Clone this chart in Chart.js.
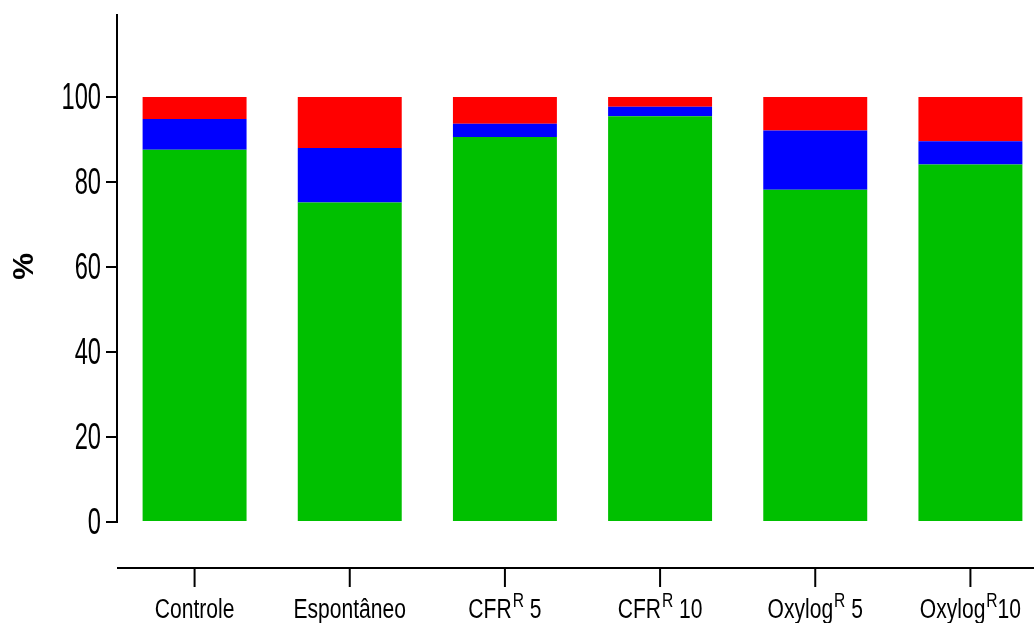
<!DOCTYPE html>
<html>
<head>
<meta charset="utf-8">
<script src="https://cdn.jsdelivr.net/npm/chart.js@4"></script>
<style>
  html, body { margin: 0; padding: 0; background: #fff; overflow: hidden; }
  #wrap { width: 1048px; height: 623px; }
</style>
</head>
<body>
<div id="wrap"><canvas id="chart" width="1048" height="623"></canvas></div>
<script>
// categorias: [base, sobrescrito, sufixo]
const categorias = [
  ['Controle', '', ''],
  ['Espontâneo', '', ''],
  ['CFR', 'R', ' 5'],
  ['CFR', 'R', ' 10'],
  ['Oxylog', 'R', ' 5'],
  ['Oxylog', 'R', '10']
];
const verde    = [87.6, 75.2, 90.6, 95.5, 78.2, 84.1];
const azul     = [7.2, 12.8, 3.1, 2.2, 13.9, 5.5];
const vermelho = [5.2, 12.0, 6.3, 2.3, 7.9, 10.4];
const yTicks   = [0, 20, 40, 60, 80, 100];
const yTitulo  = '%';

const FONTE = "'Liberation Sans', Arial, sans-serif";

// texto estreito (fonte comprimida na horizontal)
function textoEstreito(ctx, txt, x, y, escala) {
  ctx.save();
  ctx.translate(x, y);
  ctx.scale(escala, 1);
  ctx.fillText(txt, 0, 0);
  ctx.restore();
}

const eixos = {
  id: 'eixos',
  afterDraw(chart) {
    const ctx = chart.ctx;
    const x = chart.scales.x;
    const y = chart.scales.y;
    const area = chart.chartArea;
    ctx.save();
    ctx.fillStyle = '#000';
    ctx.strokeStyle = '#000';

    // rótulos do eixo y
    ctx.font = `37px ${FONTE}`;
    ctx.textAlign = 'right';
    ctx.textBaseline = 'middle';
    yTicks.forEach(v => textoEstreito(ctx, String(v), 101, y.getPixelForValue(v) + 2, 0.64));

    // título do eixo y
    ctx.save();
    ctx.translate(25, (area.top + area.bottom) / 2 - 2);
    ctx.rotate(-Math.PI / 2);
    ctx.font = `bold 30px ${FONTE}`;
    ctx.textAlign = 'center';
    ctx.textBaseline = 'middle';
    ctx.fillText(yTitulo, 0, 0);
    ctx.restore();

    // eixo x, separado da área do gráfico
    const yLinha = area.bottom + 46;
    ctx.lineWidth = 2;
    ctx.beginPath();
    ctx.moveTo(area.left, yLinha);
    ctx.lineTo(chart.width, yLinha);
    ctx.stroke();

    const esc = 0.78;
    const fBase = `27px ${FONTE}`;
    const fSup = `20px ${FONTE}`;
    ctx.textAlign = 'left';
    ctx.textBaseline = 'alphabetic';
    categorias.forEach((c, i) => {
      const cx = x.getPixelForValue(i);
      ctx.beginPath();
      ctx.moveTo(cx, yLinha);
      ctx.lineTo(cx, yLinha + 19);
      ctx.stroke();

      ctx.font = fBase;
      const w1 = ctx.measureText(c[0]).width * esc;
      const w3 = ctx.measureText(c[2]).width * esc;
      ctx.font = fSup;
      const w2 = c[1] ? ctx.measureText(c[1]).width * esc + 1 : 0;
      let px = cx - (w1 + w2 + w3) / 2;
      const base = yLinha + 50;
      ctx.font = fBase;
      textoEstreito(ctx, c[0], px, base, esc);
      px += w1;
      if (c[1]) {
        ctx.font = fSup;
        textoEstreito(ctx, c[1], px + 1, base - 11, esc);
        px += w2;
      }
      ctx.font = fBase;
      textoEstreito(ctx, c[2], px, base, esc);
    });
    ctx.restore();
  }
};

new Chart(document.getElementById('chart'), {
  type: 'bar',
  data: {
    labels: categorias.map(c => c.join('')),
    datasets: [
      { label: 'verde', data: verde, backgroundColor: '#00C000' },
      { label: 'azul', data: azul, backgroundColor: '#0000FF' },
      { label: 'vermelho', data: vermelho, backgroundColor: '#FF0000' }
    ]
  },
  options: {
    responsive: false,
    animation: false,
    layout: { padding: { top: 15, bottom: 101, left: 0, right: 0 } },
    datasets: { bar: { categoryPercentage: 1, barPercentage: 0.67, borderWidth: 0 } },
    plugins: { legend: { display: false }, tooltip: { enabled: false } },
    scales: {
      x: { stacked: true, display: false },
      y: {
        stacked: true,
        min: 0,
        max: 119.3,
        afterBuildTicks: s => { s.ticks = yTicks.map(v => ({ value: v })); },
        afterFit: s => { s.width = 117; },
        border: { display: true, color: '#000', width: 2 },
        grid: { drawOnChartArea: false, drawTicks: true, tickLength: 11, color: '#000', lineWidth: 2 },
        ticks: { display: false }
      }
    }
  },
  plugins: [eixos]
});
</script>
</body>
</html>
